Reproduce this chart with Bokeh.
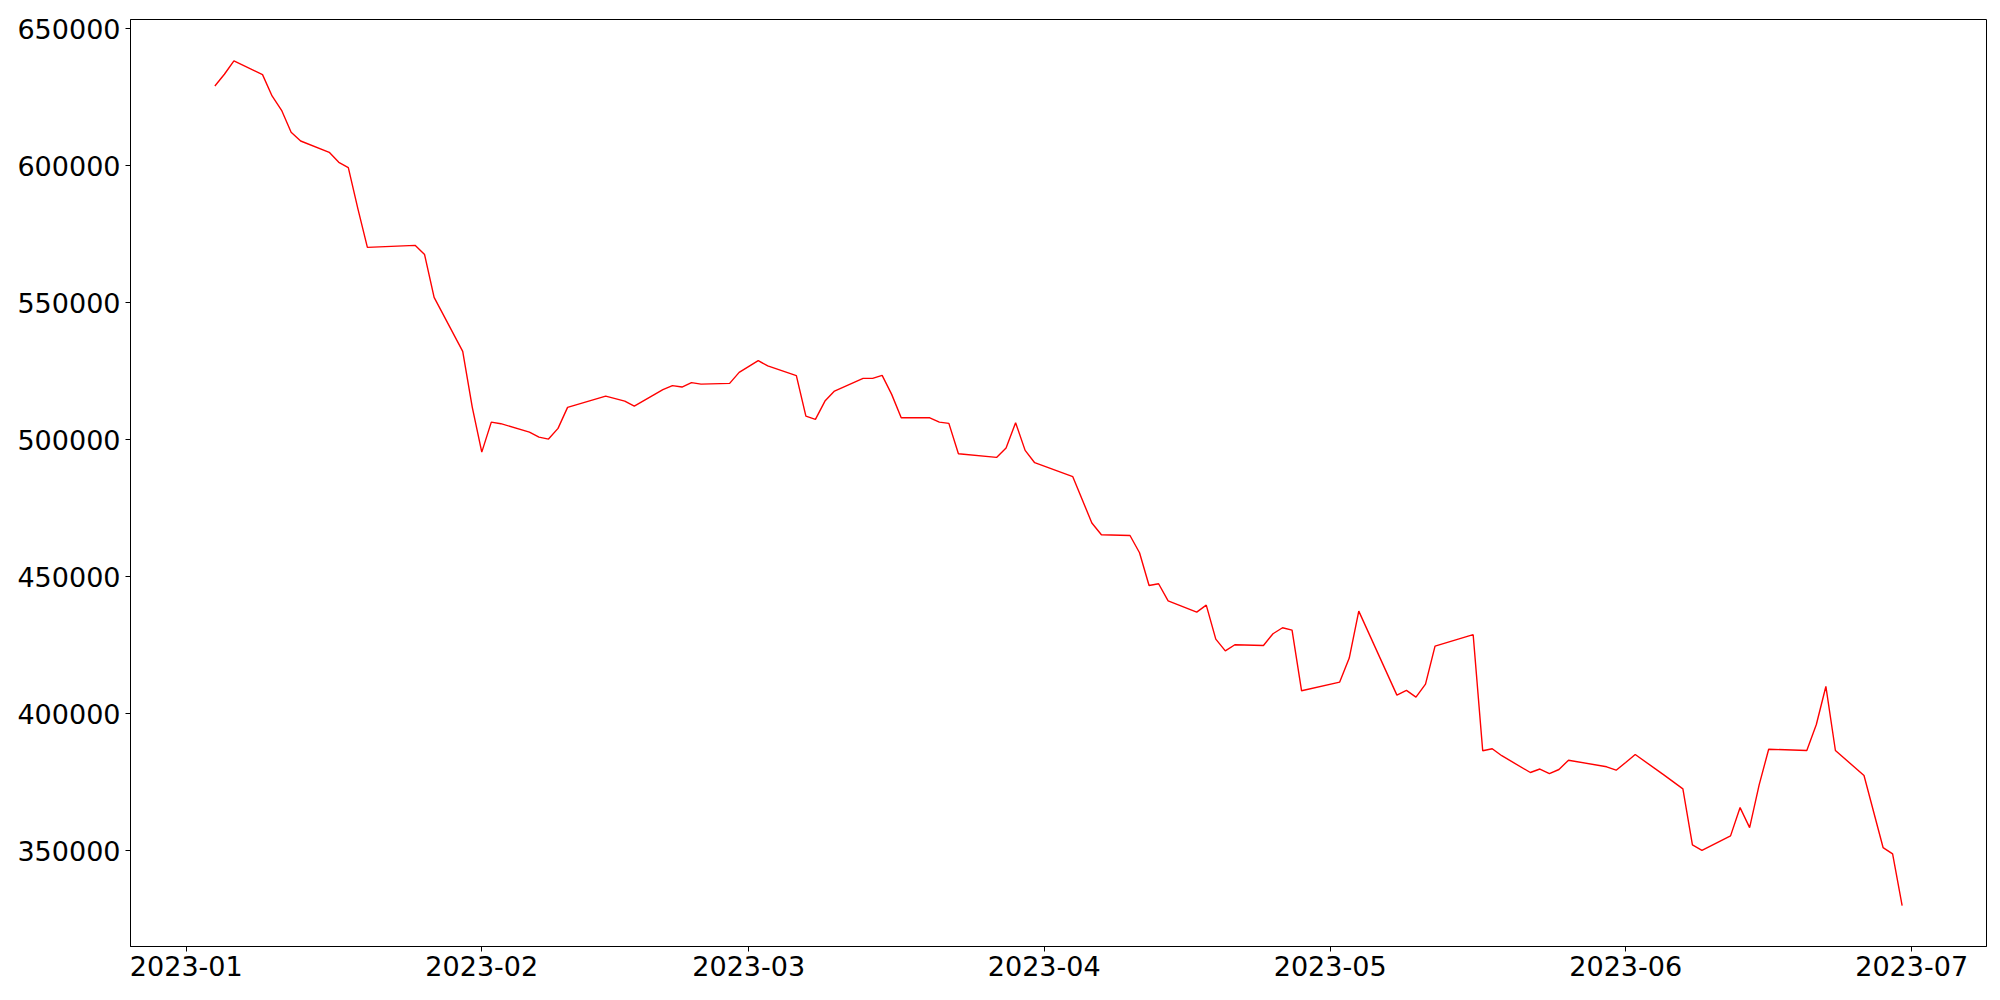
import pandas as pd
from bokeh.plotting import figure
from bokeh.models import FixedTicker, DatetimeTickFormatter, BasicTickFormatter, Range1d
from bokeh.embed import file_html
from bokeh.resources import INLINE

dates = [
    "2023-01-04", "2023-01-05", "2023-01-06", "2023-01-09", "2023-01-10", "2023-01-11",
    "2023-01-12", "2023-01-13", "2023-01-16", "2023-01-17", "2023-01-18", "2023-01-19",
    "2023-01-20", "2023-01-25", "2023-01-26", "2023-01-27", "2023-01-30", "2023-01-31",
    "2023-02-01", "2023-02-02", "2023-02-03", "2023-02-06", "2023-02-07", "2023-02-08",
    "2023-02-09", "2023-02-10", "2023-02-14", "2023-02-16", "2023-02-17", "2023-02-20",
    "2023-02-21", "2023-02-22", "2023-02-23", "2023-02-24", "2023-02-27", "2023-02-28",
    "2023-03-02", "2023-03-03", "2023-03-06", "2023-03-07", "2023-03-08", "2023-03-09",
    "2023-03-10", "2023-03-13", "2023-03-14", "2023-03-15", "2023-03-16", "2023-03-17",
    "2023-03-20", "2023-03-21", "2023-03-22", "2023-03-23", "2023-03-27", "2023-03-28",
    "2023-03-29", "2023-03-30", "2023-03-31", "2023-04-04", "2023-04-06", "2023-04-07",
    "2023-04-10", "2023-04-11", "2023-04-12", "2023-04-13", "2023-04-14", "2023-04-17",
    "2023-04-18", "2023-04-19", "2023-04-20", "2023-04-21", "2023-04-24", "2023-04-25",
    "2023-04-26", "2023-04-27", "2023-04-28", "2023-05-02", "2023-05-03", "2023-05-04",
    "2023-05-08", "2023-05-09", "2023-05-10", "2023-05-11", "2023-05-12", "2023-05-16",
    "2023-05-17", "2023-05-18", "2023-05-19", "2023-05-22", "2023-05-23", "2023-05-24",
    "2023-05-25", "2023-05-26", "2023-05-30", "2023-05-31", "2023-06-01", "2023-06-02",
    "2023-06-05", "2023-06-07", "2023-06-08", "2023-06-09", "2023-06-12", "2023-06-13",
    "2023-06-14", "2023-06-15", "2023-06-16", "2023-06-20", "2023-06-21", "2023-06-22",
    "2023-06-23", "2023-06-26", "2023-06-27", "2023-06-28", "2023-06-29", "2023-06-30",
]

values = [
    629050, 633320, 638175, 633200, 625400, 620180,
    612150, 608970, 604850, 601200, 599270, 584300,
    570180, 570900, 567520, 551940, 532230, 511900,
    495470, 506420, 505840, 502770, 500950, 500220,
    504120, 511780, 515900, 514090, 512260, 518250,
    519710, 519200, 520800, 520290, 520550, 524560,
    528830, 526900, 523350, 508610, 507410, 514090,
    517740, 522370, 522370, 523470, 516530, 508000,
    508000, 506420, 505950, 494890, 493540, 496960,
    506200, 496100, 491600, 486500, 469600, 465330,
    465050, 458760, 446820, 447440, 441220, 437070,
    439630, 427230, 422970, 425180, 424930, 429200,
    431390, 430510, 408390, 411560, 420320, 437470,
    406810, 408530, 406080, 410830, 424700, 428860,
    386500, 387230, 384700, 378580, 379850, 378150,
    379670, 383070, 380660, 379420, 382230, 385150,
    377700, 372590, 352150, 350200, 355450, 365780,
    358480, 374050, 387080, 386610, 396100, 409970,
    386610, 377490, 364350, 351200, 348880, 330020,
]

month_ticks = ["2023-01-01", "2023-02-01", "2023-03-01", "2023-04-01",
               "2023-05-01", "2023-06-01", "2023-07-01"]
y_ticks = [350000, 400000, 450000, 500000, 550000, 600000, 650000]

x = pd.to_datetime(dates)
span = x[-1] - x[0]
x_start = x[0] - span * 0.05
x_end = x[-1] + span * 0.05

p = figure(
    x_axis_type="datetime",
    frame_width=1856, frame_height=927,
    min_border_left=130, min_border_right=6, min_border_top=19, min_border_bottom=46,
    output_backend="svg", toolbar_location=None,
    x_range=Range1d(start=x_start, end=x_end),
    y_range=Range1d(start=315100, end=653300),
)
p.background_fill_color = "white"
p.border_fill_color = "white"
p.outline_line_color = "black"
p.outline_line_width = 1
p.outline_line_alpha = 1

p.line(x, values, line_color="red", line_width=1.4)

tick_ms = [int(pd.Timestamp(t).value // 10**6) for t in month_ticks]
p.xaxis.ticker = FixedTicker(ticks=tick_ms)
p.xaxis.formatter = DatetimeTickFormatter(years="%Y-%m", months="%Y-%m", days="%Y-%m",
                                          hours="%Y-%m", minutes="%Y-%m")
p.yaxis.ticker = FixedTicker(ticks=y_ticks)
p.yaxis.formatter = BasicTickFormatter(use_scientific=False)

for ax in (p.xaxis, p.yaxis):
    ax.major_label_text_font = "DejaVu Sans"
    ax.major_label_text_font_size = "27px"
    ax.major_label_text_color = "black"
    ax.axis_line_color = "black"
    ax.axis_line_width = 1
    ax.major_tick_line_color = "black"
    ax.major_tick_line_width = 1
    ax.major_tick_out = 5
    ax.major_tick_in = 0
    ax.minor_tick_line_color = None
    ax.major_label_standoff = 5

p.xaxis.major_label_standoff = 4
p.xgrid.visible = False
p.ygrid.visible = False

open("out.html", "w").write(file_html(p, INLINE))
